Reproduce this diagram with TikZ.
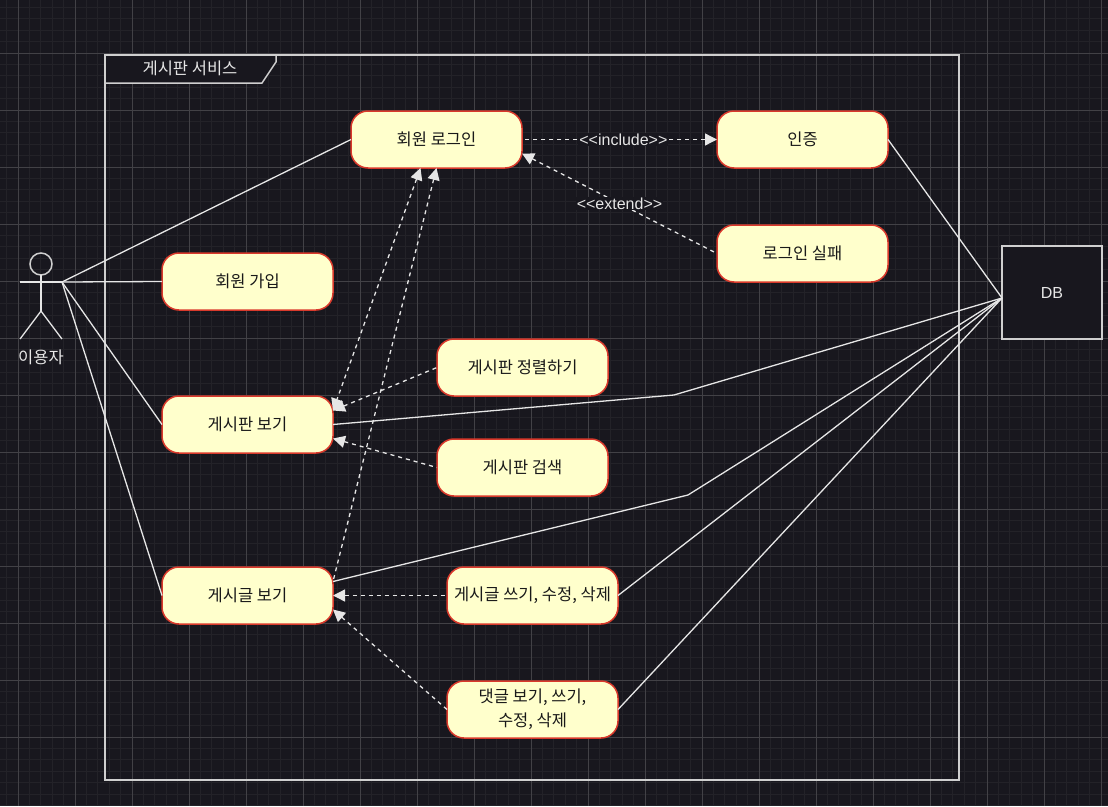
\documentclass[tikz,border=0pt]{standalone}
\usepackage{fontspec}
\usepackage{xcolor}
\usetikzlibrary{arrows.meta, positioning}
\setmainfont{Noto Sans CJK KR}
\newfontfamily\latinfont{Liberation Sans}
\definecolor{boardbg}{HTML}{18171E}
\definecolor{minorline}{HTML}{232228}
\definecolor{majorline}{HTML}{424146}
\definecolor{wireline}{HTML}{E6E6E6}
\definecolor{frameline}{HTML}{CFCFCF}
\definecolor{casefill}{HTML}{FFFFCC}
\definecolor{caseline}{HTML}{D9392B}
\tikzset{
  >={Triangle[length=12pt,width=12pt]},
  usecase/.style={draw=caseline, fill=casefill, line width=1.5pt, rounded corners=17pt,
    minimum width=171pt, minimum height=57pt, align=center, inner sep=0pt, outer sep=0pt,
    text=black!90, font=\fontsize{16.5}{24}\selectfont},
  wire/.style={draw=wireline, line width=1.3pt},
  framebox/.style={draw=frameline, line width=1.5pt},
  dep/.style={draw=wireline, line width=1.3pt, dash pattern=on 4pt off 4pt, <-},
  deplabel/.style={fill=boardbg, text=wireline, inner sep=1pt, font=\latinfont\fontsize{16}{18}\selectfont},
  plainlabel/.style={text=wireline, inner sep=0pt, font=\fontsize{16.5}{20}\selectfont},
}
\begin{document}
\begin{tikzpicture}[x=1pt, y=-1pt]
\useasboundingbox (0,0) rectangle (1108,806);
% Background grid
\fill[boardbg] (0,0) rectangle (1108,806);
\foreach \i in {0,...,97} {
  \draw[minorline, line width=0.7pt] ({6.6+11.4*\i},0) -- ({6.6+11.4*\i},806);
}
\foreach \i in {0,...,71} {
  \draw[minorline, line width=0.7pt] (0,{7.4+11.4*\i}) -- (1108,{7.4+11.4*\i});
}
\foreach \i in {0,...,19} {
  \draw[majorline, line width=0.8pt] ({18+57*\i},0) -- ({18+57*\i},806);
}
\foreach \i in {0,...,13} {
  \draw[majorline, line width=0.8pt] (0,{53+57*\i-57}) -- (1108,{53+57*\i-57});
}

% System frame
\node[framebox, minimum width=854pt, minimum height=725pt, inner sep=0pt, outer sep=0pt] (frame) at (532,417.5) {};
\draw[framebox, fill=boardbg] (frame.north west) -- (276,55) -- (276,62) -- (262,83) -- (105,83) -- cycle;
\node[plainlabel] (frametitle) at (190,68.5) {게시판 서비스};

% Actor
\node[framebox, circle, minimum size=22pt, inner sep=0pt, outer sep=0pt] (head) at (41,264) {};
\coordinate (hip) at (41,311);
\coordinate (lefthand) at (20,282);
\coordinate (righthand) at (62,282);
\coordinate (leftfoot) at (20,339);
\coordinate (rightfoot) at (62,339);
\draw[wire] (head.south) -- (hip);
\draw[wire] (lefthand) -- (righthand);
\draw[wire] (leftfoot) -- (hip) -- (rightfoot);
\node[plainlabel] (actorname) at (41,357) {이용자};

% Use cases
\node[usecase] (login) at (436.5,139.5) {회원 로그인};
\node[usecase] (auth) at (802.5,139.5) {인증};
\node[usecase] (loginfail) at (802.5,253.5) {로그인 실패};
\node[usecase] (signup) at (247.5,281.5) {회원 가입};
\node[usecase] (boardview) at (247.5,424.5) {게시판 보기};
\node[usecase] (boardsort) at (522.5,367.5) {게시판 정렬하기};
\node[usecase] (boardsearch) at (522.5,467.5) {게시판 검색};
\node[usecase] (postview) at (247.5,595.5) {게시글 보기};
\node[usecase] (postedit) at (532.5,595.5) {게시글 쓰기, 수정, 삭제};
\node[usecase] (reply) at (532.5,709.5) {댓글 보기, 쓰기,\\수정, 삭제};

% Database
\node[framebox, fill=boardbg, minimum width=100pt, minimum height=93pt, inner sep=0pt, outer sep=0pt,
  text=wireline, font=\latinfont\fontsize{16}{18}\selectfont] (db) at (1052,292.5) {DB};
\coordinate (dbport) at (1002,298);
\coordinate (boardbend) at (674,395);
\coordinate (postbend) at (688,495);

% Actor associations
\draw[wire] (righthand) -- (login.west);
\draw[wire] (righthand) -- (signup.west);
\draw[wire] (righthand) -- (boardview.west);
\draw[wire] (righthand) -- (postview.west);

% Database associations
\draw[wire] (auth.east) -- (dbport);
\draw[wire] (boardview.east) -- (boardbend) -- (dbport);
\draw[wire] ([yshift=14pt]postview.east) -- (postbend) -- (dbport);
\draw[wire] (postedit.east) -- (dbport);
\draw[wire] (reply.east) -- (dbport);

% Dependencies
\draw[dep, <->] ([xshift=-16pt]login.south) -- ([yshift=14pt]boardview.east);
\draw[dep] (login.south) -- ([yshift=14pt]postview.east);
\draw[dep] (auth.west) -- (login.east) node[deplabel, pos=0.48] (includelabel) {<{}<include>{}>};
\draw[dep] ([yshift=-14pt]login.east) -- (loginfail.west) node[deplabel, midway] (extendlabel) {<{}<extend>{}>};
\draw[dep] ([yshift=14pt]boardview.east) -- (boardsort.west);
\draw[dep] ([yshift=-14pt]boardview.east) -- (boardsearch.west);
\draw[dep] (postview.east) -- (postedit.west);
\draw[dep] ([yshift=-14pt]postview.east) -- (reply.west);
\end{tikzpicture}
\end{document}
